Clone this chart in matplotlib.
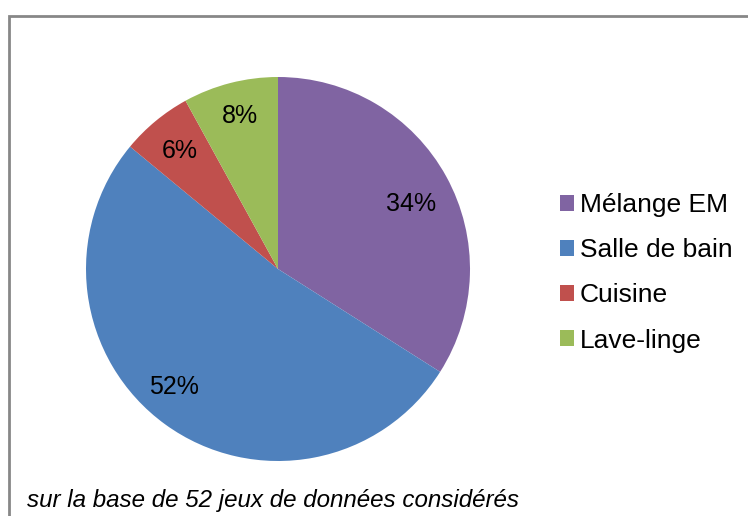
import matplotlib.pyplot as plt
from matplotlib.patches import Rectangle

categories = ["Mélange EM", "Salle de bain", "Cuisine", "Lave-linge"]
shares = [34, 52, 6, 8]
colors = ["#8064A2", "#4F81BD", "#C0504D", "#9BBB59"]
note = "sur la base de 52 jeux de données considérés"

plt.rcParams["font.family"] = ["Liberation Sans", "DejaVu Sans"]

W, H = 748, 516
fig = plt.figure(figsize=(W / 100, H / 100), dpi=100)

# pie centred at (278, 269) px, radius 192 px
cx, cy, r = 278, 269, 192
ax = fig.add_axes([(cx - r) / W, (H - cy - r) / H, 2 * r / W, 2 * r / H])
wedges, _, autotexts = ax.pie(
    shares, colors=colors, startangle=90, counterclock=False,
    autopct="%1.0f%%", pctdistance=0.8, radius=1,
    wedgeprops=dict(linewidth=0), textprops=dict(fontsize=18, color="black"))
ax.set_xlim(-1, 1)
ax.set_ylim(-1, 1)
ax.set_aspect("equal")

# small nudges (pie units) to mimic Excel's best-fit label placement
nudges = [(-0.01, -0.045), (-0.07, 0.034), (0.0, 0.0), (0.0, 0.02)]
for t, (dx, dy) in zip(autotexts, nudges):
    x, y = t.get_position()
    t.set_position((x + dx, y + dy))

fig.legend(wedges, categories, loc="upper left",
           bbox_to_anchor=(547 / W, 1 - 180 / H), frameon=False,
           fontsize=19, labelspacing=0.8, handlelength=0.52,
           handleheight=0.52, handletextpad=0.22, borderpad=0)

fig.text(27 / W, 1 - 501 / H, note, fontsize=17.4, style="italic", va="center")

# outer chart border
fig.add_artist(Rectangle((8.5 / W, -0.05), 1.0, 1 - 15.5 / H + 0.05,
                         transform=fig.transFigure, fill=False,
                         edgecolor="#878787", linewidth=2, clip_on=False))

fig.savefig("out.png", dpi=100)
